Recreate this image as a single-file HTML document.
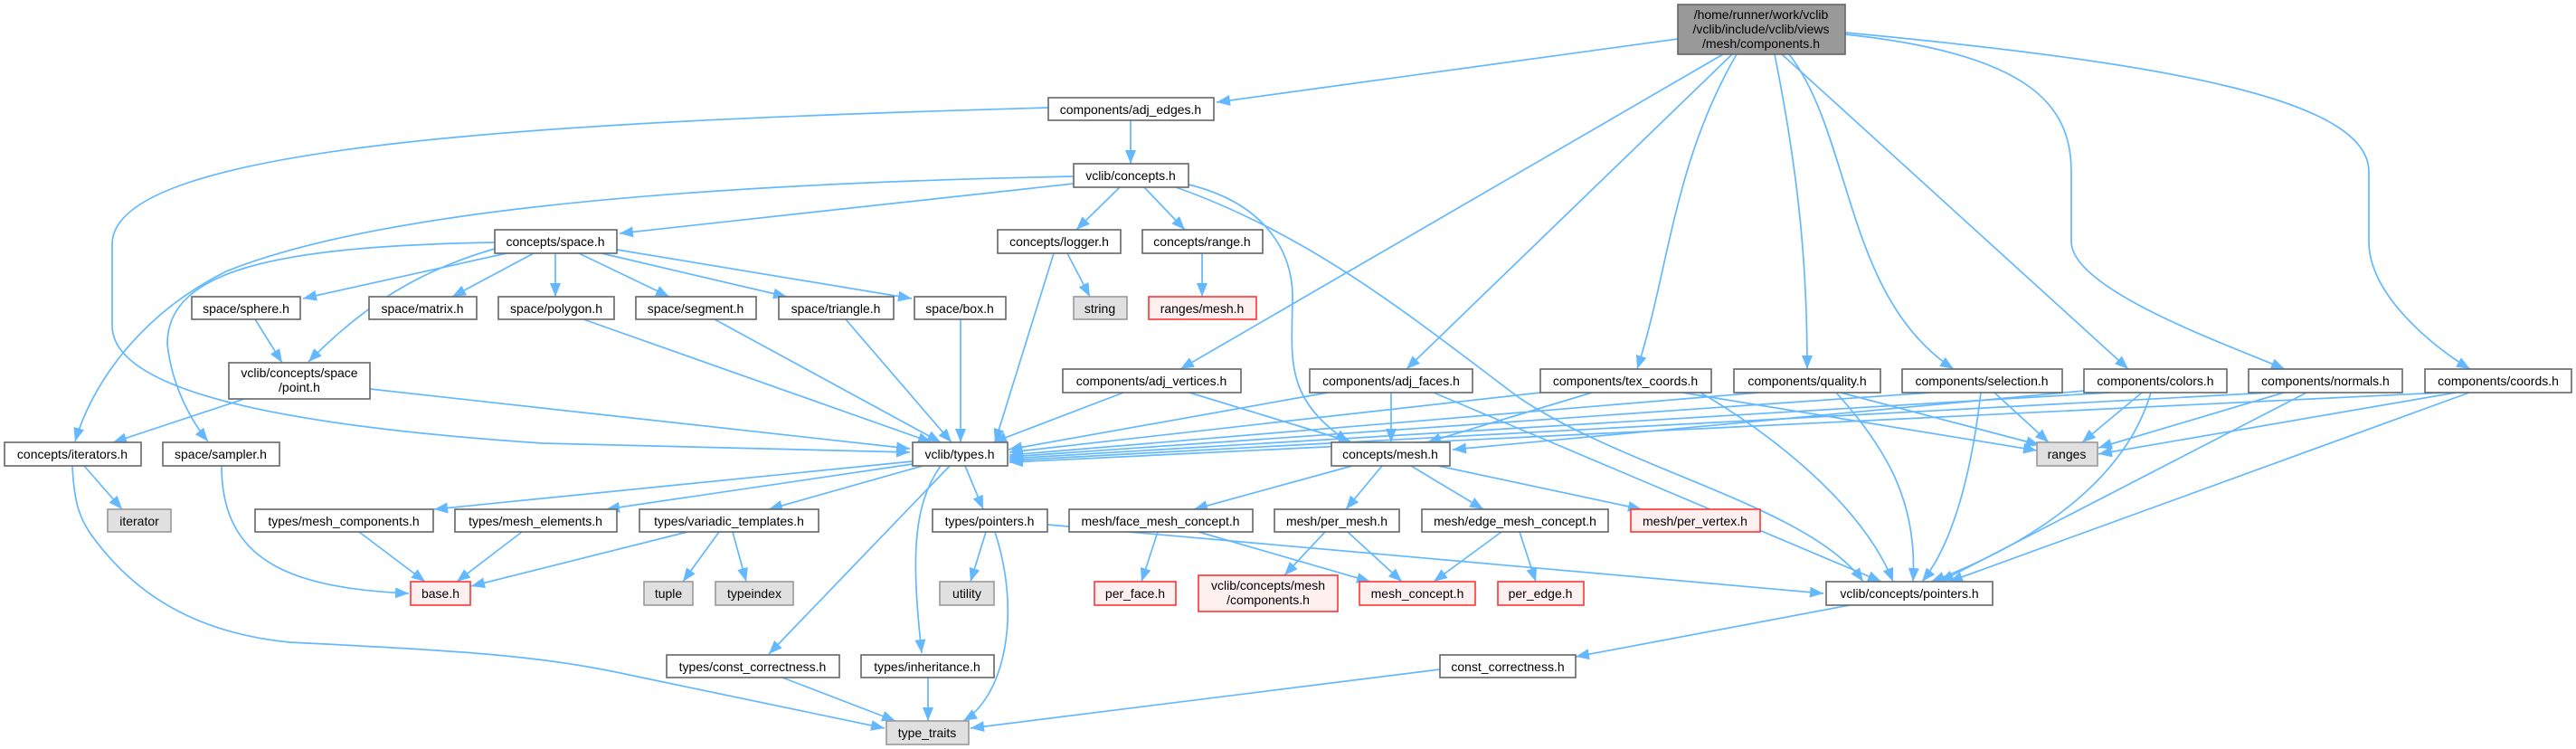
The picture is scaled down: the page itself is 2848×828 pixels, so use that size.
<!DOCTYPE html>
<html><head><meta charset="utf-8"><style>
html,body{margin:0;padding:0;background:#fff;}
svg{display:block}
text{font-family:"Liberation Sans",sans-serif;font-size:14px;fill:#000;text-anchor:middle}
.n rect{fill:#fff;stroke:#666;stroke-width:1.6}
.g rect{fill:#e0e0e0;stroke:#999;stroke-width:1.6}
.r rect{fill:#fff0f0;stroke:#f33;stroke-width:1.6}
.m rect{fill:#999;stroke:#666;stroke-width:1.6}
path.e{fill:none;stroke:#63b8ff;stroke-width:1.7}
</style></head><body>
<svg width="2848" height="828" viewBox="0 0 2848 828" xmlns="http://www.w3.org/2000/svg">
<defs><marker id="a" markerUnits="userSpaceOnUse" markerWidth="16" markerHeight="12" refX="15" refY="6" orient="auto"><path d="M0,0 L15,6 L0,12 z" fill="#63b8ff"/></marker></defs>
<g marker-end="url(#a)">
<path class="e" d="M1855,43 L1345,113"/>
<path class="e" d="M1905,60 L1305,408"/>
<path class="e" d="M1915,60 L1555,408"/>
<path class="e" d="M1920,60 C1850,180 1845,300 1810,408"/>
<path class="e" d="M1962,60 C1990,200 1998,300 1998,408"/>
<path class="e" d="M1978,60 C2048,150 2040,330 2160,408"/>
<path class="e" d="M1970,60 L2353,408"/>
<path class="e" d="M2040,38 C2250,60 2290,120 2290,190 L2290,267 C2290,320 2460,380 2526,408"/>
<path class="e" d="M2040,36 C2400,70 2619,110 2619,190 L2619,267 C2619,330 2700,390 2731,408"/>
<path class="e" d="M1250,133 L1250,181"/>
<path class="e" d="M1159,119 C600,135 124,160 124,270 L124,360 C124,430 300,470 600,490 L1006,500"/>
<path class="e" d="M1187,195 C700,205 400,240 250,300 C150,350 100,430 83,488"/>
<path class="e" d="M1187,203 L685,258"/>
<path class="e" d="M1238,207 L1190,254"/>
<path class="e" d="M1265,207 L1310,254"/>
<path class="e" d="M1314,204 C1400,225 1430,280 1429,330 C1428,400 1420,440 1491,489"/>
<path class="e" d="M1300,207 C1450,260 1560,350 1680,440 C1800,520 2000,560 2060,643"/>
<path class="e" d="M560,280 L335,330"/>
<path class="e" d="M590,280 L500,328"/>
<path class="e" d="M614,280 L614,328"/>
<path class="e" d="M640,280 L740,328"/>
<path class="e" d="M665,280 L870,328"/>
<path class="e" d="M682,276 L1008,330"/>
<path class="e" d="M547,275 C460,300 400,340 341,400"/>
<path class="e" d="M547,268 C300,272 185,300 185,380 C190,430 215,470 230,488"/>
<path class="e" d="M1180,280 L1205,328"/>
<path class="e" d="M1165,280 L1100,489"/>
<path class="e" d="M1329,280 L1329,328"/>
<path class="e" d="M282,353 L312,401"/>
<path class="e" d="M270,441 L125,489"/>
<path class="e" d="M409,430 L1006,496"/>
<path class="e" d="M645,353 L1030,489"/>
<path class="e" d="M790,353 L1040,489"/>
<path class="e" d="M935,353 L1052,489"/>
<path class="e" d="M1062,353 L1062,489"/>
<path class="e" d="M93,515 L135,563"/>
<path class="e" d="M80,515 C82,560 90,575 100,590 C150,660 220,700 320,710 C520,720 600,725 700,747 L978,805"/>
<path class="e" d="M245,515 C245,620 320,650 452,656"/>
<path class="e" d="M1009,510 L480,563"/>
<path class="e" d="M1009,513 L670,563"/>
<path class="e" d="M1020,515 L850,563"/>
<path class="e" d="M1067,515 L1087,563"/>
<path class="e" d="M1050,515 L850,723"/>
<path class="e" d="M1040,515 C1008,560 1008,620 1019,722"/>
<path class="e" d="M397,588 L470,643"/>
<path class="e" d="M577,588 L505,643"/>
<path class="e" d="M760,588 L521,648"/>
<path class="e" d="M795,588 L755,643"/>
<path class="e" d="M810,588 L825,643"/>
<path class="e" d="M1090,588 L1073,643"/>
<path class="e" d="M1100,588 C1130,680 1110,770 1065,797"/>
<path class="e" d="M1158,580 L2016,656"/>
<path class="e" d="M865,749 L990,797"/>
<path class="e" d="M1026,749 L1026,797"/>
<path class="e" d="M1242,434 L1098,489"/>
<path class="e" d="M1315,434 L1495,489"/>
<path class="e" d="M1468,434 L1115,497"/>
<path class="e" d="M1538,434 L1538,489"/>
<path class="e" d="M1585,434 L2080,643"/>
<path class="e" d="M1703,434 L1116,500"/>
<path class="e" d="M1760,434 L1578,489"/>
<path class="e" d="M1860,434 L2252,498"/>
<path class="e" d="M1880,434 C1960,480 2060,560 2093,643"/>
<path class="e" d="M1945,434 L1116,503"/>
<path class="e" d="M2035,434 L2255,492"/>
<path class="e" d="M2030,434 C2090,500 2120,560 2115,643"/>
<path class="e" d="M2135,434 L1116,505"/>
<path class="e" d="M2205,434 L2265,489"/>
<path class="e" d="M2190,434 C2180,520 2160,600 2125,643"/>
<path class="e" d="M2333,434 L1116,507"/>
<path class="e" d="M2304,432 L1606,497"/>
<path class="e" d="M2368,434 L2302,489"/>
<path class="e" d="M2378,434 C2350,530 2250,600 2135,643"/>
<path class="e" d="M2510,434 L1116,509"/>
<path class="e" d="M2525,434 L2320,495"/>
<path class="e" d="M2550,434 L2145,643"/>
<path class="e" d="M2700,434 L1116,511"/>
<path class="e" d="M2715,434 L2320,502"/>
<path class="e" d="M2730,434 L2155,643"/>
<path class="e" d="M1495,515 L1320,563"/>
<path class="e" d="M1528,515 L1488,563"/>
<path class="e" d="M1560,515 L1640,563"/>
<path class="e" d="M1590,515 L1815,563"/>
<path class="e" d="M1280,588 L1262,643"/>
<path class="e" d="M1325,588 L1515,643"/>
<path class="e" d="M1465,588 L1420,636"/>
<path class="e" d="M1490,588 L1550,643"/>
<path class="e" d="M1660,588 L1585,643"/>
<path class="e" d="M1680,588 L1698,643"/>
<path class="e" d="M2045,669 L1742,726"/>
<path class="e" d="M1592,740 L1073,805"/>
</g>

<g class="m"><rect x="1855" y="5" width="185" height="55"/><text x="1947" y="21">/home/runner/work/vclib</text><text x="1947" y="37">/vclib/include/vclib/views</text><text x="1947" y="53">/mesh/components.h</text></g>

<g class="n"><rect x="1159" y="108" width="183" height="25"/><text x="1250" y="126">components/adj_edges.h</text></g>
<g class="n"><rect x="1187" y="181" width="127" height="26"/><text x="1250" y="199">vclib/concepts.h</text></g>
<g class="n"><rect x="547" y="254" width="135" height="26"/><text x="614" y="272">concepts/space.h</text></g>
<g class="n"><rect x="1103" y="254" width="136" height="26"/><text x="1171" y="272">concepts/logger.h</text></g>
<g class="n"><rect x="1263" y="254" width="133" height="26"/><text x="1329" y="272">concepts/range.h</text></g>

<g class="n"><rect x="212" y="328" width="120" height="25"/><text x="272" y="346">space/sphere.h</text></g>
<g class="n"><rect x="408" y="328" width="119" height="25"/><text x="467" y="346">space/matrix.h</text></g>
<g class="n"><rect x="551" y="328" width="128" height="25"/><text x="615" y="346">space/polygon.h</text></g>
<g class="n"><rect x="703" y="328" width="133" height="25"/><text x="769" y="346">space/segment.h</text></g>
<g class="n"><rect x="861" y="328" width="127" height="25"/><text x="924" y="346">space/triangle.h</text></g>
<g class="n"><rect x="1011" y="328" width="101" height="25"/><text x="1061" y="346">space/box.h</text></g>
<g class="g"><rect x="1187" y="328" width="59" height="25"/><text x="1216" y="346">string</text></g>
<g class="r"><rect x="1270" y="328" width="119" height="25"/><text x="1329" y="346">ranges/mesh.h</text></g>

<g class="n"><rect x="253" y="401" width="156" height="40"/><text x="331" y="417">vclib/concepts/space</text><text x="331" y="433">/point.h</text></g>
<g class="n"><rect x="1175" y="408" width="197" height="26"/><text x="1273" y="426">components/adj_vertices.h</text></g>
<g class="n"><rect x="1448" y="408" width="180" height="26"/><text x="1538" y="426">components/adj_faces.h</text></g>
<g class="n"><rect x="1703" y="408" width="189" height="26"/><text x="1797" y="426">components/tex_coords.h</text></g>
<g class="n"><rect x="1917" y="408" width="162" height="26"/><text x="1998" y="426">components/quality.h</text></g>
<g class="n"><rect x="2103" y="408" width="177" height="26"/><text x="2191" y="426">components/selection.h</text></g>
<g class="n"><rect x="2304" y="408" width="158" height="26"/><text x="2383" y="426">components/colors.h</text></g>
<g class="n"><rect x="2486" y="408" width="170" height="26"/><text x="2571" y="426">components/normals.h</text></g>
<g class="n"><rect x="2681" y="408" width="162" height="26"/><text x="2762" y="426">components/coords.h</text></g>

<g class="n"><rect x="5" y="489" width="151" height="26"/><text x="80" y="507">concepts/iterators.h</text></g>
<g class="n"><rect x="180" y="489" width="129" height="26"/><text x="244" y="507">space/sampler.h</text></g>
<g class="n"><rect x="1009" y="489" width="105" height="26"/><text x="1061" y="507">vclib/types.h</text></g>
<g class="n"><rect x="1472" y="489" width="131" height="26"/><text x="1537" y="507">concepts/mesh.h</text></g>
<g class="g"><rect x="2252" y="489" width="67" height="26"/><text x="2285" y="507">ranges</text></g>

<g class="g"><rect x="119" y="563" width="70" height="25"/><text x="154" y="581">iterator</text></g>
<g class="n"><rect x="282" y="563" width="197" height="25"/><text x="380" y="581">types/mesh_components.h</text></g>
<g class="n"><rect x="503" y="563" width="179" height="25"/><text x="592" y="581">types/mesh_elements.h</text></g>
<g class="n"><rect x="707" y="563" width="198" height="25"/><text x="806" y="581">types/variadic_templates.h</text></g>
<g class="n"><rect x="1031" y="563" width="127" height="25"/><text x="1094" y="581">types/pointers.h</text></g>
<g class="n"><rect x="1182" y="563" width="203" height="25"/><text x="1283" y="581">mesh/face_mesh_concept.h</text></g>
<g class="n"><rect x="1409" y="563" width="138" height="25"/><text x="1478" y="581">mesh/per_mesh.h</text></g>
<g class="n"><rect x="1572" y="563" width="206" height="25"/><text x="1675" y="581">mesh/edge_mesh_concept.h</text></g>
<g class="r"><rect x="1803" y="563" width="143" height="25"/><text x="1874" y="581">mesh/per_vertex.h</text></g>

<g class="r"><rect x="454" y="643" width="66" height="26"/><text x="487" y="661">base.h</text></g>
<g class="g"><rect x="712" y="643" width="54" height="26"/><text x="739" y="661">tuple</text></g>
<g class="g"><rect x="791" y="643" width="86" height="26"/><text x="834" y="661">typeindex</text></g>
<g class="g"><rect x="1039" y="643" width="60" height="26"/><text x="1069" y="661">utility</text></g>
<g class="r"><rect x="1210" y="643" width="90" height="26"/><text x="1255" y="661">per_face.h</text></g>
<g class="r"><rect x="1325" y="636" width="154" height="40"/><text x="1402" y="652">vclib/concepts/mesh</text><text x="1402" y="668">/components.h</text></g>
<g class="r"><rect x="1503" y="643" width="128" height="26"/><text x="1567" y="661">mesh_concept.h</text></g>
<g class="r"><rect x="1656" y="643" width="95" height="26"/><text x="1703" y="661">per_edge.h</text></g>
<g class="n"><rect x="2019" y="643" width="184" height="26"/><text x="2111" y="661">vclib/concepts/pointers.h</text></g>

<g class="n"><rect x="737" y="724" width="191" height="25"/><text x="832" y="742">types/const_correctness.h</text></g>
<g class="n"><rect x="952" y="724" width="147" height="25"/><text x="1025" y="742">types/inheritance.h</text></g>
<g class="n"><rect x="1592" y="724" width="150" height="25"/><text x="1667" y="742">const_correctness.h</text></g>
<g class="g"><rect x="980" y="797" width="91" height="26"/><text x="1025" y="815">type_traits</text></g>
</svg>
</body></html>
